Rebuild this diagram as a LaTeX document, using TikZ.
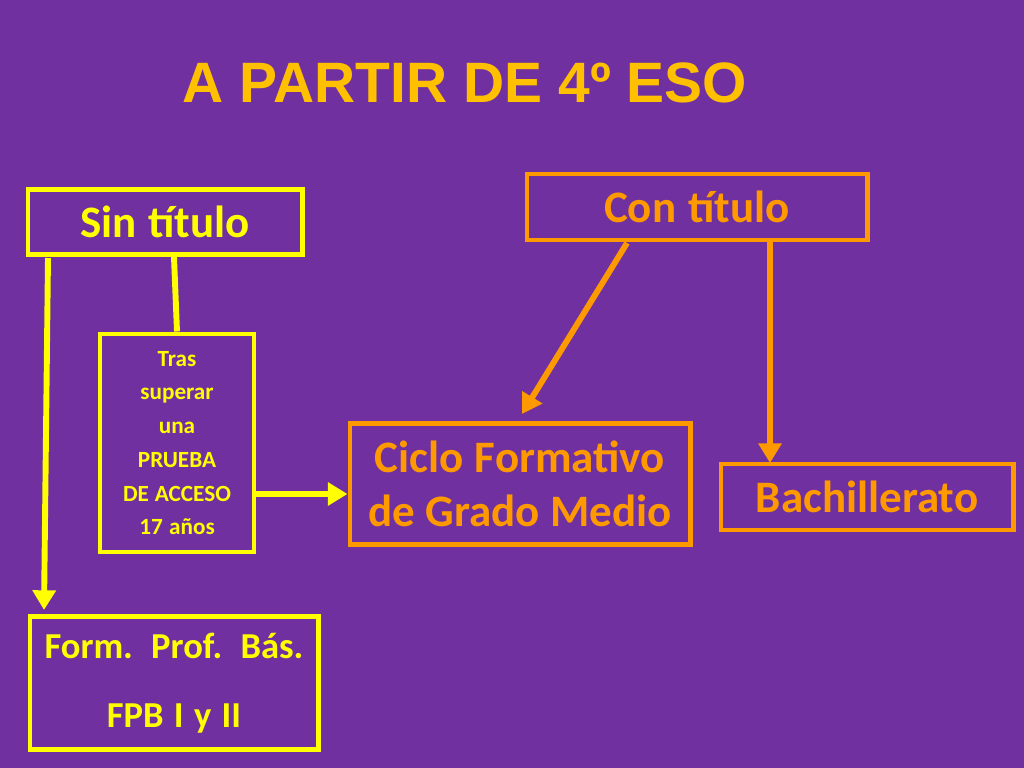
\documentclass[tikz,border=0pt]{standalone}
\usepackage{fontspec}
\setmainfont{Carlito}
\newfontfamily\titlefont{Liberation Sans}
\usetikzlibrary{positioning}
\usetikzlibrary{arrows.meta}
\definecolor{fondo}{HTML}{7030A0}
\definecolor{amarillo}{HTML}{FFFF00}
\definecolor{naranja}{HTML}{FF9900}
\definecolor{oro}{HTML}{FFC000}
\newcommand{\letra}[2]{\bfseries\fontsize{#1}{#2}\selectfont}

\begin{document}
\begin{tikzpicture}[x=0.025cm,y=-0.025cm,
        caja/.style={draw, line width=3.5pt, inner sep=0pt, align=center,
            execute at begin node={\spaceskip=0.23em plus 0.05em\relax}},
        cajaam/.style={caja, draw=amarillo, text=amarillo},
        cajana/.style={caja, draw=naranja, text=naranja},
        flecha/.style={line width=4.2pt, -{Triangle[length=14pt,width=16pt]}}]
            % Background
            \fill[fondo] (0,0) rectangle (1024,768);
            \useasboundingbox (0,0) rectangle (1024,768);

            % Title
            \node[text=oro, font=\titlefont\bfseries\fontsize{40.5}{48}\selectfont] (titulo) at (465,83) {A PARTIR DE 4º ESO};

            % Boxes
            \node[cajaam, text width=6.85cm, minimum height=1.63cm, font=\letra{32}{36}] (sin) at (165,222) {Sin título};
            \node[cajana, text width=8.5cm, minimum height=1.65cm, font=\letra{32}{36}] (con) at (697,207) {Con título};
            \node[cajaam, text width=3.85cm, minimum height=5.45cm, font=\letra{16.5}{24}] (tras) at (177,443) {Tras\\superar\\una\\PRUEBA\\DE ACCESO\\17 años};
            \node[cajana, text width=8.5cm, minimum height=3.02cm, font=\letra{32}{38}] (ciclo) at (520,484) {Ciclo Formativo\\de Grado Medio};
            \node[cajana, text width=7.3cm, minimum height=1.65cm, font=\letra{32}{36}] (bach) at (867,497) {Bachillerato};
            \node[cajaam, text width=7.2cm, minimum height=3.32cm, font=\letra{26}{49}] (fpb) at (174,683) {Form. Prof. Bás.\\FPB I y II};

            % Free ends
            \coordinate (s1) at (48,258);
            \coordinate (f1) at (44,610);
            \coordinate (c1) at (627,243);
            \coordinate (c2) at (522,414);
            \coordinate (c3) at (770,242);
            \coordinate (b1) at (770,463);

            % Connections
            \draw[amarillo, flecha] (s1) -- (f1);
            \draw[amarillo, line width=4.2pt] (sin.south -| tras.north) ++(-3,0) -- (tras.north);
            \draw[amarillo, flecha] (tras.east |- 0,494) -- (ciclo.west |- 0,494);
            \draw[naranja, flecha] (c1) -- (c2);
            \draw[naranja, flecha] (c3) -- (b1);
        \end{tikzpicture}
\end{document}
